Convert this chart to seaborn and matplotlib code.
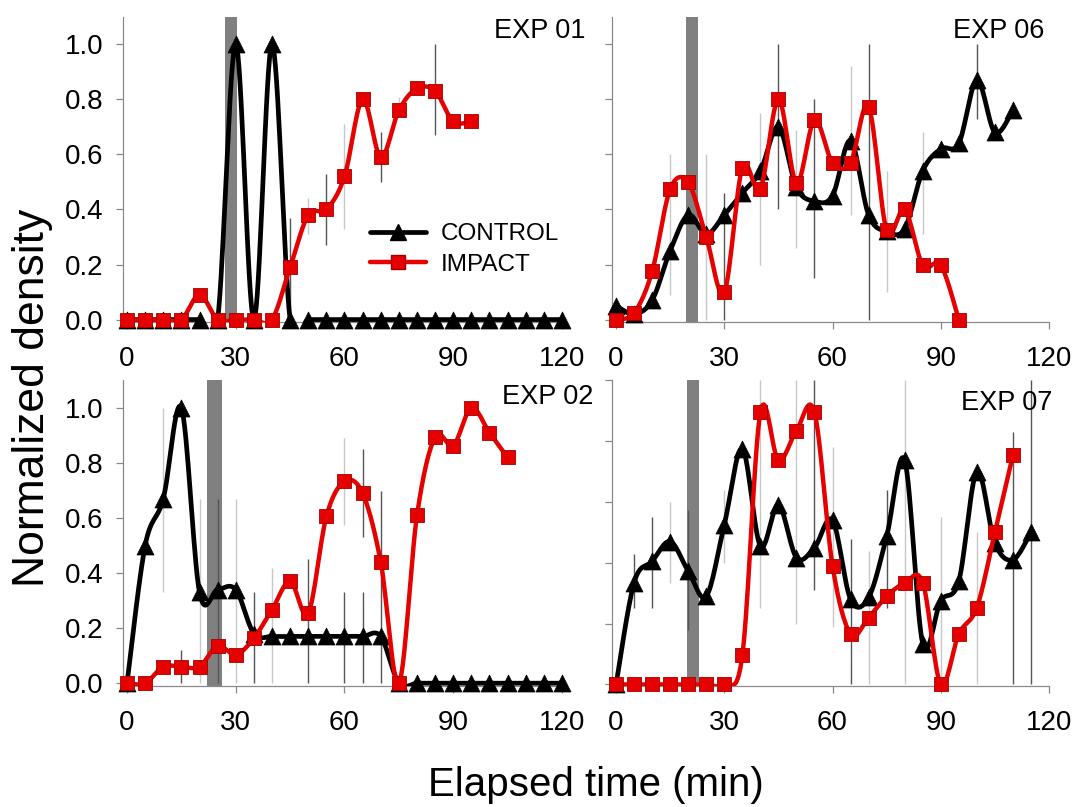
import numpy as np
import matplotlib
matplotlib.use('Agg')
import matplotlib.pyplot as plt
from matplotlib.lines import Line2D
from matplotlib.ticker import FormatStrFormatter
import seaborn as sns

# sampling times (min)
TIME = [0, 5, 10, 15, 20, 25, 30, 35, 40, 45, 50, 55, 60,
        65, 70, 75, 80, 85, 90, 95, 100, 105, 110, 115, 120]

# EXP 01
ctrl_01 = [0, 0, 0, 0, 0, 0, 1.0, 0, 1.0, 0, 0, 0, 0,
           0, 0, 0, 0, 0, 0, 0, 0, 0, 0, 0, 0]
imp_01 = [0, 0, 0, 0, 0.09, 0, 0, 0, 0, 0.19, 0.38, 0.40, 0.52,
          0.80, 0.59, 0.76, 0.84, 0.83, 0.72, 0.72]
# EXP 06
ctrl_06 = [0.05, 0.02, 0.07, 0.25, 0.38, 0.31, 0.38, 0.46, 0.54, 0.70, 0.48, 0.43, 0.45,
           0.65, 0.38, 0.32, 0.33, 0.54, 0.62, 0.64, 0.87, 0.68, 0.76]
imp_06 = [0, 0.024, 0.175, 0.474, 0.498, 0.30, 0.10, 0.552, 0.475, 0.80, 0.496, 0.724, 0.57,
          0.57, 0.774, 0.324, 0.40, 0.198, 0.198, 0]
# EXP 02
ctrl_02 = [0, 0.50, 0.67, 1.0, 0.33, 0.34, 0.34, 0.18, 0.17, 0.17, 0.17, 0.17, 0.17,
           0.17, 0.17, 0, 0, 0, 0, 0, 0, 0, 0, 0, 0]
imp_02 = [0, 0, 0.06, 0.06, 0.06, 0.136, 0.103, 0.164, 0.267, 0.37, 0.255, 0.606, 0.733,
          0.69, 0.44, 0, 0.61, 0.895, 0.863, 1.0, 0.91, 0.82]
# EXP 07
ctrl_07 = [0, 0.335, 0.405, 0.47, 0.373, 0.29, 0.525, 0.775, 0.455, 0.59, 0.417, 0.45, 0.54,
           0.28, 0.286, 0.487, 0.737, 0.134, 0.275, 0.34, 0.70, 0.465, 0.41, 0.50]
imp_07 = [0, 0, 0, 0, 0, 0, 0, 0.096, 0.895, 0.737, 0.835, 0.895, 0.39,
          0.166, 0.22, 0.29, 0.333, 0.335, 0, 0.166, 0.253, 0.50, 0.754]

# variability bars: (time, low, high), dark and light grey
err_dark_01 = [(45, 0.0, 0.37), (55, 0.27, 0.53), (70, 0.50, 0.68), (85, 0.67, 1.0)]
err_light_01 = [(50, 0.31, 0.44), (60, 0.33, 0.71), (75, 0.74, 0.81)]
err_dark_06 = [(30, 0.0, 0.46), (45, 0.40, 1.0), (55, 0.15, 0.80), (70, 0.0, 1.0), (100, 0.73, 1.0)]
err_light_06 = [(15, 0.09, 0.60), (25, 0.0, 0.60), (40, 0.20, 0.75), (50, 0.26, 0.69),
                (65, 0.38, 0.92), (75, 0.10, 0.54), (85, 0.31, 0.68)]
err_dark_02 = [(15, 0.0, 0.12), (25, 0.0, 0.67), (35, 0.0, 0.33), (50, 0.0, 0.45),
               (60, 0.0, 0.33), (65, 0.53, 0.85), (65, 0.0, 0.33), (70, 0.0, 0.70)]
err_light_02 = [(10, 0.33, 1.0), (20, 0.0, 0.67), (30, 0.0, 0.67), (40, 0.0, 0.42), (60, 0.575, 0.89)]
err_dark_07 = [(5, 0.25, 0.43), (10, 0.25, 0.55), (20, 0.18, 0.575), (55, 0.31, 1.0),
               (65, 0.0, 0.48), (75, 0.25, 0.64), (110, 0.0, 0.83), (115, 0.0, 1.0)]
err_light_07 = [(15, 0.335, 0.60), (30, 0.40, 0.64), (40, 0.25, 1.0), (50, 0.20, 1.0),
                (60, 0.19, 0.78), (70, 0.0, 0.44), (80, 0.0, 1.0), (90, 0.0, 0.55), (100, 0.0, 0.50)]

# impact window (min)
window_01 = (27.0, 30.3)
window_06 = (19.3, 22.8)
window_02 = (22.2, 26.1)
window_07 = (19.6, 23.1)

panels = [
    dict(name="EXP 01", ctrl=ctrl_01, imp=imp_01, dark=err_dark_01, light=err_light_01, win=window_01, top=1.1),
    dict(name="EXP 06", ctrl=ctrl_06, imp=imp_06, dark=err_dark_06, light=err_light_06, win=window_06, top=1.1),
    dict(name="EXP 02", ctrl=ctrl_02, imp=imp_02, dark=err_dark_02, light=err_light_02, win=window_02, top=1.1),
    dict(name="EXP 07", ctrl=ctrl_07, imp=imp_07, dark=err_dark_07, light=err_light_07, win=window_07, top=1.0),
]


def smooth(x, y, n=16):
    """Catmull-Rom curve through the points (mimics the smoothed lines of the original)."""
    x = np.asarray(x, float)
    y = np.asarray(y, float)
    xp = np.r_[x[0], x, x[-1]]
    yp = np.r_[y[0], y, y[-1]]
    t = np.linspace(0, 1, n, endpoint=False)
    xs, ys = [], []
    for k in range(len(x) - 1):
        for arr, out in ((xp, xs), (yp, ys)):
            p0, p1, p2, p3 = arr[k:k + 4]
            out.append(0.5 * (2 * p1 + (-p0 + p2) * t
                              + (2 * p0 - 5 * p1 + 4 * p2 - p3) * t ** 2
                              + (-p0 + 3 * p1 - 3 * p2 + p3) * t ** 3))
    return np.r_[np.concatenate(xs), x[-1]], np.r_[np.concatenate(ys), y[-1]]


sns.set_theme(style="white")
plt.rcParams['font.family'] = ['Liberation Sans', 'DejaVu Sans']
plt.rcParams['text.color'] = 'black'

fig = plt.figure(figsize=(10.77, 8.07), dpi=100)

RED = '#e60000'
GREY_SPINE = '#8a8a8a'
boxes = [(0.1139, 0.6006, 0.4079, 0.3786), (0.568, 0.6006, 0.406, 0.3786),
         (0.1139, 0.150, 0.4079, 0.3786), (0.568, 0.150, 0.406, 0.3786)]
label_pos = [(1.053, 0.955), (0.99, 0.955), (1.071, 0.945), (1.007, 0.925)]

for i, (p, box) in enumerate(zip(panels, boxes)):
    ax = fig.add_axes(box)
    ax.axvspan(p['win'][0], p['win'][1], color='#808080', lw=0, zorder=1)

    for bars, col in ((p['light'], '#c8c8c8'), (p['dark'], '#555555')):
        bx = [b[0] for b in bars]
        ax.vlines(bx, [b[1] for b in bars], [b[2] for b in bars], colors=col, lw=1.0, zorder=2)

    tc = TIME[:len(p['ctrl'])]
    ti = TIME[:len(p['imp'])]
    cx, cy = smooth(tc, p['ctrl'])
    ix, iy = smooth(ti, p['imp'])

    sns.lineplot(x=cx, y=cy, ax=ax, color='black', lw=3.4, sort=False, estimator=None, zorder=3)
    sns.scatterplot(x=tc, y=p['ctrl'], ax=ax, marker='^', s=150, color='black',
                    edgecolor='black', linewidth=0.5, zorder=4, clip_on=False)
    sns.lineplot(x=ix, y=iy, ax=ax, color=RED, lw=3.2, sort=False, estimator=None, zorder=5)
    sns.scatterplot(x=ti, y=p['imp'], ax=ax, marker='s', s=110, color=RED,
                    edgecolor='#a00000', linewidth=0.6, zorder=6, clip_on=False)

    ax.set_xlim(-1.2, 120)
    ax.set_ylim(-0.01 if p['top'] > 1.05 else -0.005, p['top'])
    ax.set_xticks([0, 30, 60, 90, 120])
    ax.set_yticks([0, 0.2, 0.4, 0.6, 0.8, 1.0])
    ax.yaxis.set_major_formatter(FormatStrFormatter('%.1f'))
    if i % 2 == 1:
        ax.set_yticklabels([])
    sns.despine(ax=ax)
    for side in ('left', 'bottom'):
        ax.spines[side].set_color(GREY_SPINE)
        ax.spines[side].set_linewidth(0.9)
    ax.tick_params(axis='both', direction='out', length=5, width=0.9, color=GREY_SPINE,
                   labelsize=20, labelcolor='black', left=True, bottom=True)
    ax.tick_params(axis='x', pad=12)
    ax.tick_params(axis='y', pad=9)
    ax.set_xlabel('')
    ax.set_ylabel('')
    ax.text(label_pos[i][0], label_pos[i][1], p['name'], transform=ax.transAxes,
            ha='right', va='center', fontsize=19.5, color='black')

    if i == 0:
        handles = [Line2D([0], [0], color='black', lw=3.4, marker='^', markersize=12),
                   Line2D([0], [0], color=RED, lw=3.2, marker='s', markersize=10.5,
                          markeredgecolor='#a00000')]
        ax.legend(handles, ['CONTROL', 'IMPACT'], loc='upper left',
                  bbox_to_anchor=(0.563, 0.325), frameon=False, fontsize=17.5,
                  borderpad=0, borderaxespad=0, handlelength=2.3,
                  handletextpad=0.6, labelspacing=0.35)

fig.text(0.030, 0.507, 'Normalized density', rotation=90, ha='center', va='center', fontsize=32)
fig.text(0.553, 0.027, 'Elapsed time (min)', ha='center', va='center', fontsize=29)

fig.savefig('out.png', dpi=100)
plt.close(fig)
